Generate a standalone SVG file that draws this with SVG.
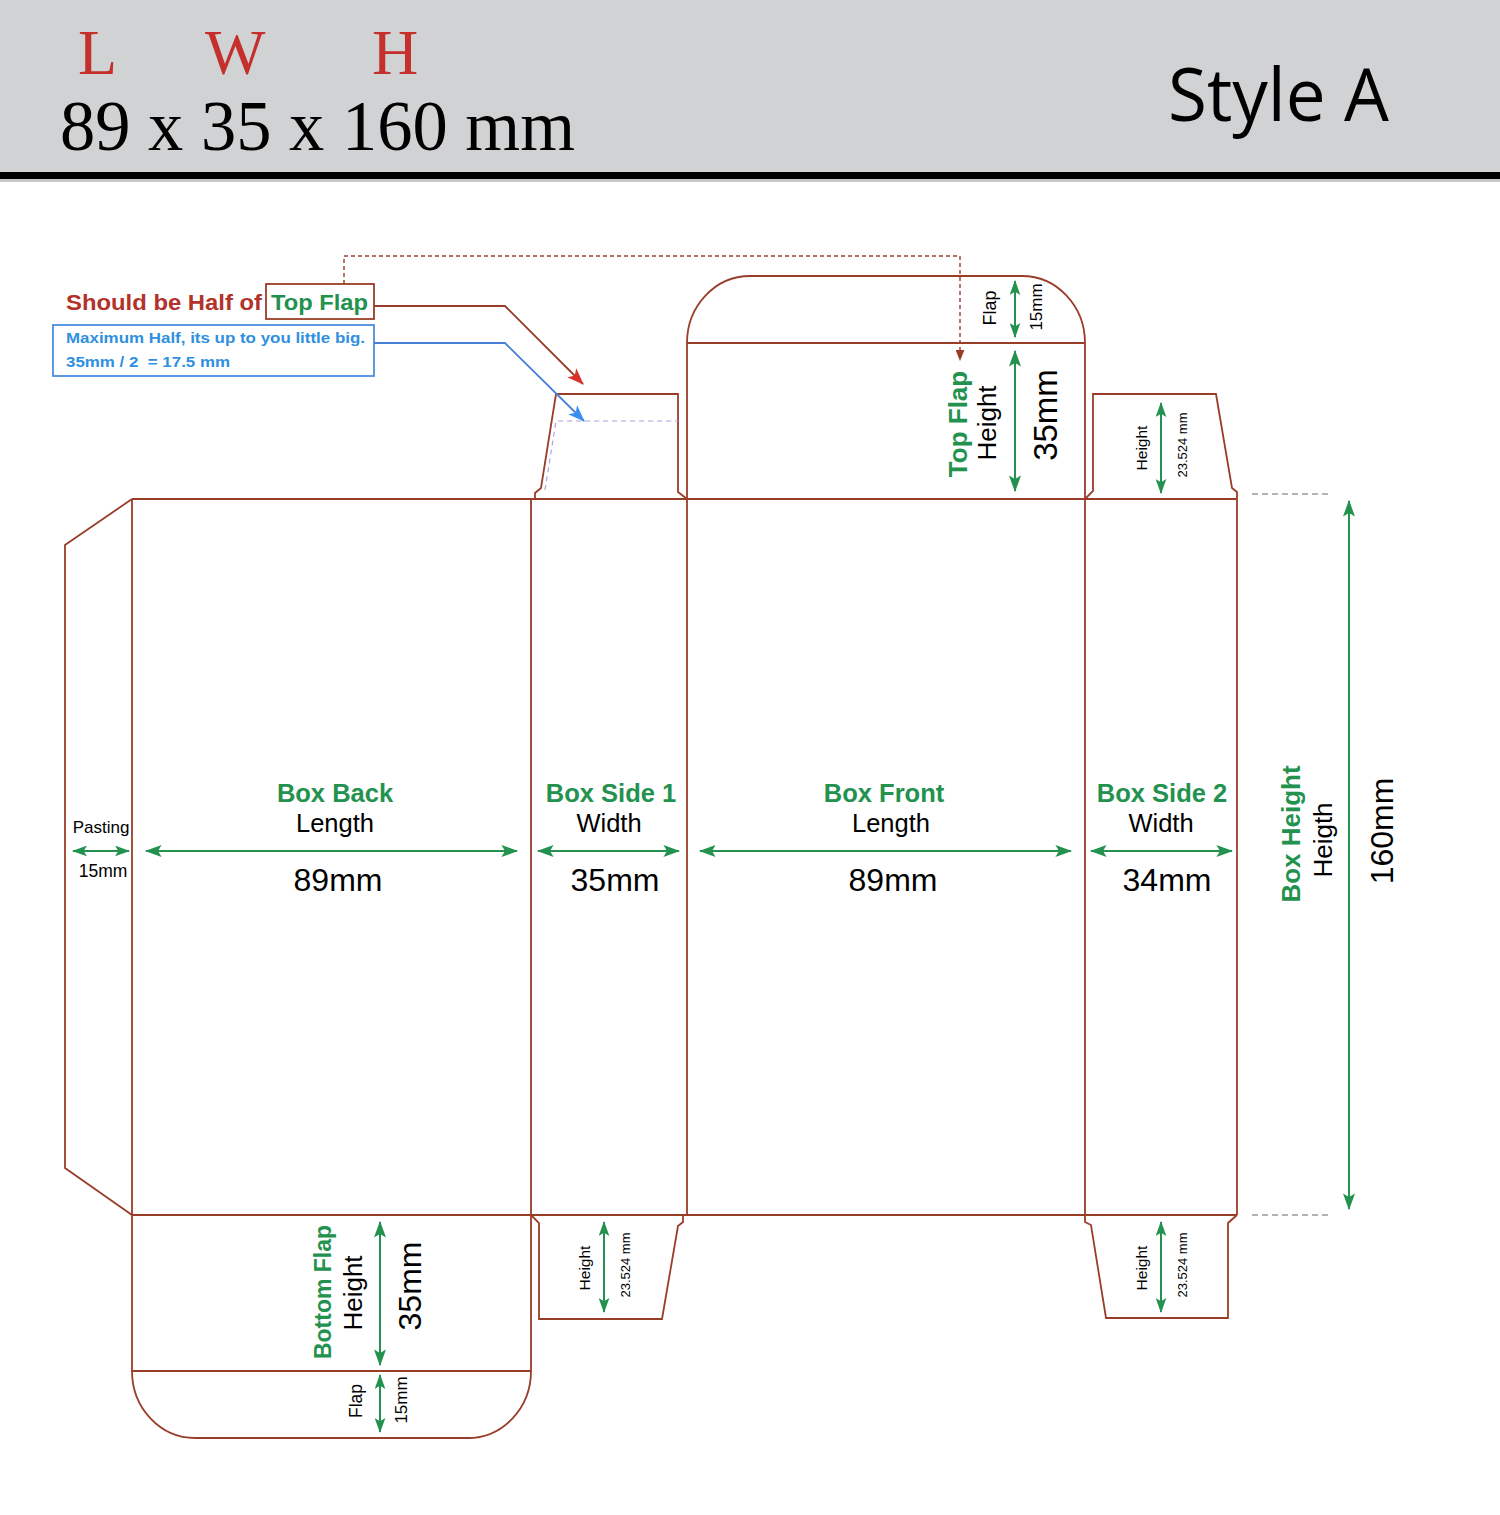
<svg xmlns="http://www.w3.org/2000/svg" width="1500" height="1515" viewBox="0 0 1500 1515">
<defs>
<style>
.die{fill:none;stroke:#9a3d28;stroke-width:1.8;stroke-linejoin:miter}
.g{fill:#23924f;font-family:"Liberation Sans",Arial,sans-serif;font-weight:bold}
.k{fill:#000;font-family:"Liberation Sans",Arial,sans-serif}
.dim{stroke:#23924f;stroke-width:2;fill:none;marker-start:url(#ga);marker-end:url(#ga)}
.dims{stroke:#23924f;stroke-width:2;fill:none;marker-start:url(#gs);marker-end:url(#gs)}
.mid{text-anchor:middle}
</style>
<marker id="ga" viewBox="0 0 14 10" refX="13" refY="5" markerWidth="17" markerHeight="12" markerUnits="userSpaceOnUse" orient="auto-start-reverse">
<path d="M0,0 L14,5 L0,10 L3,5 Z" fill="#23924f"/>
</marker>
<marker id="gs" viewBox="0 0 14 10" refX="13" refY="5" markerWidth="15" markerHeight="11" markerUnits="userSpaceOnUse" orient="auto-start-reverse">
<path d="M0,0 L14,5 L0,10 L3,5 Z" fill="#23924f"/>
</marker>
<marker id="ra" viewBox="0 0 16 12" refX="15" refY="6" markerWidth="17" markerHeight="13" markerUnits="userSpaceOnUse" orient="auto">
<path d="M0,0 L16,6 L0,12 L4,6 Z" fill="#d8322a"/>
</marker>
<marker id="ba" viewBox="0 0 16 12" refX="15" refY="6" markerWidth="17" markerHeight="13" markerUnits="userSpaceOnUse" orient="auto">
<path d="M0,0 L16,6 L0,12 L4,6 Z" fill="#3b8ff0"/>
</marker>
<marker id="da" viewBox="0 0 10 8" refX="9" refY="4" markerWidth="11" markerHeight="9" markerUnits="userSpaceOnUse" orient="auto">
<path d="M0,0 L10,4 L0,8 Z" fill="#9a3d28"/>
</marker>
</defs>

<rect x="0" y="0" width="1500" height="1515" fill="#ffffff"/>

<g id="header">
<rect x="0" y="0" width="1500" height="172" fill="#d1d2d4"/>
<rect x="0" y="172" width="1500" height="7" fill="#000"/>
<rect x="0" y="179" width="1500" height="3" fill="#c8c9cb"/>
<g font-family="'Liberation Serif','Times New Roman',serif" font-size="64" fill="#c4302b">
<text x="78" y="74">L</text>
<text x="205" y="74">W</text>
<text x="372" y="74">H</text>
</g>
<text x="60" y="150" font-family="'Liberation Serif','Times New Roman',serif" font-size="71" fill="#000" textLength="515" lengthAdjust="spacingAndGlyphs">89 x 35 x 160 mm</text>
<text x="1168" y="121" font-family="'Open Sans','Noto Sans',sans-serif" font-size="74" fill="#000" textLength="221" lengthAdjust="spacingAndGlyphs">Style A</text>
</g>

<g id="dieline">
<path class="die" d="M132,499 H1237 M132,1215 H1237 M132,499 V1215 M531,499 V1215 M687,499 V1215 M1085,499 V1215 M1237,499 V1215"/>
<path id="pasting-flap" class="die" d="M132,499 L65,545 V1168 L132,1215"/>
<path id="top-tuck" class="die" d="M687,499 V343 A63,67 0 0 1 750,276 H1022 A63,67 0 0 1 1085,343 V499 M687,343 H1085"/>
<path id="side1-top" class="die" d="M535,499 V493 L541,488 L556,394 H678 V492 L687,499"/>
<path d="M545,490 L556,421 H678" fill="none" stroke="#a6a6dc" stroke-width="1.2" stroke-dasharray="5,4"/>
<path id="side2-top" class="die" d="M1085,499 L1093,491 V394 H1216 L1232,488 L1237,492 V499"/>
<path id="side1-bottom" class="die" d="M531,1215 L539,1223 V1319 H662 L678,1226 L683,1222 V1215"/>
<path id="side2-bottom" class="die" d="M1085,1215 V1222 L1091,1225 L1106,1318 H1228 V1223 L1237,1215"/>
<path id="bottom-tuck" class="die" d="M132,1215 V1371 A63,67 0 0 0 195,1438 H468 A63,67 0 0 0 531,1371 V1215 M132,1371 H531"/>
</g>

<g id="guides" stroke="#9a9a9a" stroke-width="1.3" stroke-dasharray="6,4" fill="none">
<path d="M1252,494 H1332"/>
<path d="M1252,1215 H1332"/>
</g>

<g id="note-red">
<text x="66" y="310" font-family="'Liberation Sans',Arial,sans-serif" font-weight="bold" font-size="22.5" fill="#b3322a" textLength="196" lengthAdjust="spacingAndGlyphs">Should be Half of</text>
<rect x="266" y="284" width="108" height="35" fill="none" stroke="#9a3d28" stroke-width="1.8"/>
<text x="271" y="310" class="g" font-size="22.5" textLength="97" lengthAdjust="spacingAndGlyphs">Top Flap</text>
</g>

<g id="note-blue">
<rect x="53" y="325" width="321" height="51" fill="none" stroke="#4a8fe0" stroke-width="1.8"/>
<text x="66" y="343" font-family="'Liberation Sans',Arial,sans-serif" font-weight="bold" font-size="15.5" fill="#2f8fe0" textLength="299" lengthAdjust="spacingAndGlyphs">Maximum Half, its up to you little big.</text>
<text x="66" y="367" font-family="'Liberation Sans',Arial,sans-serif" font-weight="bold" font-size="15.5" fill="#2f8fe0" xml:space="preserve" textLength="164" lengthAdjust="spacingAndGlyphs">35mm / 2  = 17.5 mm</text>
</g>

<g id="connectors">
<path d="M374,306 H505 L583,384" fill="none" stroke="#9a3d28" stroke-width="1.8" marker-end="url(#ra)"/>
<path d="M374,343 H505 L584,421" fill="none" stroke="#4a7fd8" stroke-width="1.8" marker-end="url(#ba)"/>
<path d="M344,284 V256 H960 V360" fill="none" stroke="#9a3d28" stroke-width="1.4" stroke-dasharray="4,3" marker-end="url(#da)"/>
</g>

<g id="top-flap-labels">
<text class="k mid" font-size="18" transform="translate(996,308) rotate(-90)">Flap</text>
<path class="dims" d="M1015,281 V337"/>
<text class="k mid" font-size="17" transform="translate(1042,307) rotate(-90)">15mm</text>
<text class="g mid" font-size="26" transform="translate(967,424) rotate(-90)">Top Flap</text>
<text class="k mid" font-size="26" transform="translate(996,423) rotate(-90)">Height</text>
<path class="dim" d="M1015,351 V491"/>
<text class="k mid" font-size="33" transform="translate(1057,415) rotate(-90)">35mm</text>
</g>

<g id="side2-top-labels">
<text class="k mid" font-size="15.5" transform="translate(1147,448) rotate(-90)">Height</text>
<path class="dims" d="M1161,403 V493"/>
<text class="k mid" font-size="13" transform="translate(1187,445) rotate(-90)">23.524 mm</text>
</g>

<g id="pasting-labels">
<text class="k mid" x="101" y="833" font-size="17">Pasting</text>
<path class="dims" d="M73,851 H129"/>
<text class="k mid" x="103" y="877" font-size="17.5">15mm</text>
</g>

<g id="box-back">
<text class="g mid" x="335" y="802" font-size="25.5">Box Back</text>
<text class="k mid" x="335" y="832" font-size="25.5">Length</text>
<path class="dim" d="M146,851 H517"/>
<text class="k mid" x="338" y="891" font-size="32">89mm</text>
</g>

<g id="box-side1">
<text class="g mid" x="611" y="802" font-size="25.5">Box Side 1</text>
<text class="k mid" x="609" y="832" font-size="25.5">Width</text>
<path class="dim" d="M538,851 H679"/>
<text class="k mid" x="615" y="891" font-size="32">35mm</text>
</g>

<g id="box-front">
<text class="g mid" x="884" y="802" font-size="25.5">Box Front</text>
<text class="k mid" x="891" y="832" font-size="25.5">Length</text>
<path class="dim" d="M700,851 H1071"/>
<text class="k mid" x="893" y="891" font-size="32">89mm</text>
</g>

<g id="box-side2">
<text class="g mid" x="1162" y="802" font-size="25.5">Box Side 2</text>
<text class="k mid" x="1161" y="832" font-size="25.5">Width</text>
<path class="dim" d="M1091,851 H1232"/>
<text class="k mid" x="1167" y="891" font-size="32">34mm</text>
</g>

<g id="box-height">
<text class="g mid" font-size="26" transform="translate(1300,834) rotate(-90)">Box Height</text>
<text class="k mid" font-size="26" transform="translate(1332,840) rotate(-90)">Heigth</text>
<path class="dim" d="M1349,501 V1209"/>
<text class="k mid" font-size="32" transform="translate(1393,831) rotate(-90)">160mm</text>
</g>

<g id="bottom-flap-labels">
<text class="g mid" font-size="23" transform="translate(331,1292) rotate(-90)">Bottom Flap</text>
<text class="k mid" font-size="26" transform="translate(362,1293) rotate(-90)">Height</text>
<path class="dim" d="M380,1222 V1365"/>
<text class="k mid" font-size="32" transform="translate(421,1286) rotate(-90)">35mm</text>
<text class="k mid" font-size="17.5" transform="translate(362,1401) rotate(-90)">Flap</text>
<path class="dims" d="M380,1375 V1432"/>
<text class="k mid" font-size="17" transform="translate(407,1400) rotate(-90)">15mm</text>
</g>

<g id="side1-bottom-labels">
<text class="k mid" font-size="15.5" transform="translate(590,1268) rotate(-90)">Height</text>
<path class="dims" d="M604,1222 V1312"/>
<text class="k mid" font-size="13" transform="translate(630,1265) rotate(-90)">23.524 mm</text>
</g>

<g id="side2-bottom-labels">
<text class="k mid" font-size="15.5" transform="translate(1147,1268) rotate(-90)">Height</text>
<path class="dims" d="M1161,1222 V1312"/>
<text class="k mid" font-size="13" transform="translate(1187,1265) rotate(-90)">23.524 mm</text>
</g>
</svg>
